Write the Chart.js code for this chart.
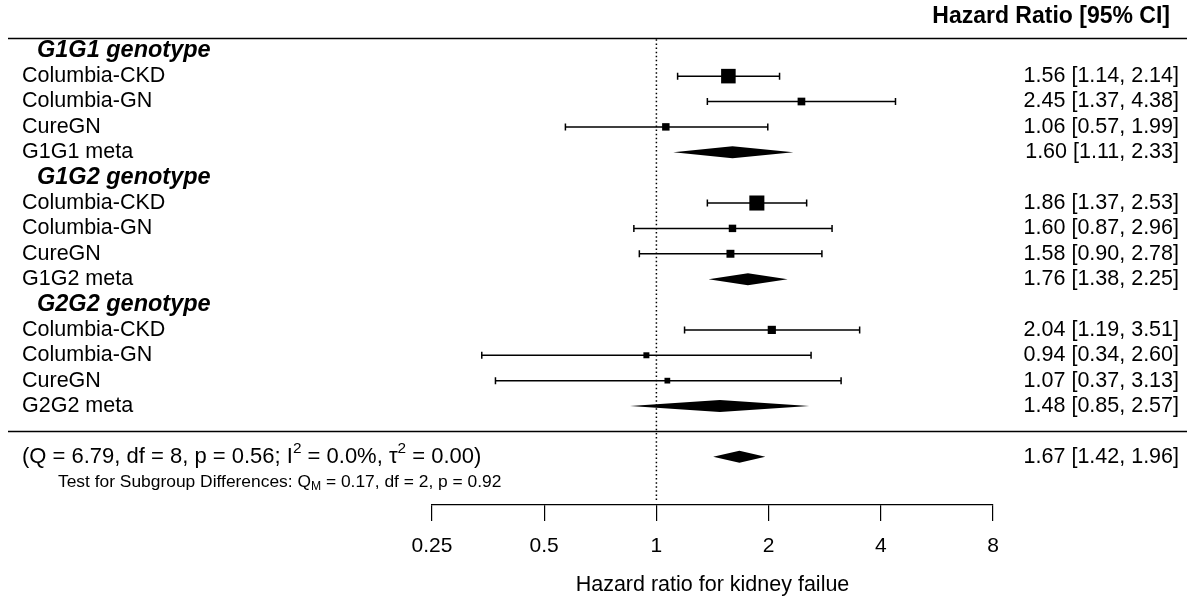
<!DOCTYPE html>
<html>
<head>
<meta charset="utf-8">
<script src="https://cdn.jsdelivr.net/npm/chart.js@4.4.1/dist/chart.umd.min.js"></script>
<style>
  html, body { margin: 0; padding: 0; background: #fff; }
  #forest { display: block; }
</style>
</head>
<body>
<canvas id="forest" width="1187" height="604"></canvas>
<script>
/* Forest plot: hazard ratio for kidney failure by genotype. */
const rowLabels = [
  "G1G1 genotype", "Columbia-CKD", "Columbia-GN", "CureGN", "G1G1 meta",
  "G1G2 genotype", "Columbia-CKD", "Columbia-GN", "CureGN", "G1G2 meta",
  "G2G2 genotype", "Columbia-CKD", "Columbia-GN", "CureGN", "G2G2 meta",
];
const rowKinds = [
  "group", "study", "study", "study", "meta",
  "group", "study", "study", "study", "meta",
  "group", "study", "study", "study", "meta",
];
const estimates = [null, 1.56, 2.45, 1.06, 1.60, null, 1.86, 1.60, 1.58, 1.76, null, 2.04, 0.94, 1.07, 1.48];
const lowerCI   = [null, 1.14, 1.37, 0.57, 1.11, null, 1.37, 0.87, 0.90, 1.38, null, 1.19, 0.34, 0.37, 0.85];
const upperCI   = [null, 2.14, 4.38, 1.99, 2.33, null, 2.53, 2.96, 2.78, 2.25, null, 3.51, 2.60, 3.13, 2.57];
// relative study weights
const weights   = [null, 39, 11, 10, null, null, 41, 10, 12, null, null, 13, 4, 3, null];

const overallRow = 16;
const overallHR = 1.67;
const overallLower = 1.42;
const overallUpper = 1.96;

const tickValues = [0.25, 0.5, 1, 2, 4, 8];
const tickLabels = ["0.25", "0.5", "1", "2", "4", "8"];

const FONT = "'Liberation Sans', Arial, sans-serif";

function fmt(v) {
  return v.toFixed(2);
}

function ciText(est, lo, hi) {
  return `${fmt(est)} [${fmt(lo)}, ${fmt(hi)}]`;
}

function boxRadius(w) {
  const side = 5 + w * 0.245;
  return side / (2 * Math.SQRT1_2);
}

const studyPoints = [];
const studyRadii = [];
rowKinds.forEach((kind, i) => {
  if (kind === "study") {
    studyPoints.push({ x: estimates[i], y: i });
    studyRadii.push(boxRadius(weights[i]));
  }
});

// draws rich text pieces: [{t, sup, sub}]
function drawPieces(ctx, pieces, x, y, size) {
  let cx = x;
  pieces.forEach((p) => {
    const s = p.sup || p.sub ? size * 0.7 : size;
    ctx.font = `${s}px ${FONT}`;
    const dy = p.sup ? -size * 0.38 : p.sub ? size * 0.25 : 0;
    ctx.fillText(p.t, cx, y + dy);
    cx += ctx.measureText(p.t).width;
  });
}

const forestPlugin = {
  id: "forestMarks",
  beforeDatasetsDraw(chart) {
    const { ctx, scales: { x, y }, chartArea } = chart;
    ctx.save();

    // reference line at HR = 1
    ctx.strokeStyle = "#000";
    ctx.lineWidth = 1.5;
    ctx.setLineDash([1.5, 2.6]);
    ctx.beginPath();
    ctx.moveTo(x.getPixelForValue(1), y.getPixelForValue(-0.45));
    ctx.lineTo(x.getPixelForValue(1), chartArea.bottom - 4);
    ctx.stroke();
    ctx.setLineDash([]);

    // confidence intervals for studies
    ctx.lineWidth = 1.5;
    rowKinds.forEach((kind, i) => {
      if (kind !== "study") return;
      const py = y.getPixelForValue(i);
      const x0 = x.getPixelForValue(lowerCI[i]);
      const x1 = x.getPixelForValue(upperCI[i]);
      ctx.beginPath();
      ctx.moveTo(x0, py);
      ctx.lineTo(x1, py);
      ctx.moveTo(x0, py - 3.5);
      ctx.lineTo(x0, py + 3.5);
      ctx.moveTo(x1, py - 3.5);
      ctx.lineTo(x1, py + 3.5);
      ctx.stroke();
    });

    // summary diamonds
    const diamond = (row, est, lo, hi) => {
      const py = y.getPixelForValue(row);
      const h = 6;
      ctx.beginPath();
      ctx.moveTo(x.getPixelForValue(lo), py);
      ctx.lineTo(x.getPixelForValue(est), py - h);
      ctx.lineTo(x.getPixelForValue(hi), py);
      ctx.lineTo(x.getPixelForValue(est), py + h);
      ctx.closePath();
      ctx.fillStyle = "#000";
      ctx.fill();
    };
    rowKinds.forEach((kind, i) => {
      if (kind === "meta") diamond(i, estimates[i], lowerCI[i], upperCI[i]);
    });
    diamond(overallRow, overallHR, overallLower, overallUpper);
    ctx.restore();
  },
  afterDraw(chart) {
    const { ctx, scales: { y } } = chart;
    const W = chart.width;
    ctx.save();
    ctx.fillStyle = "#000";
    ctx.strokeStyle = "#000";
    ctx.textBaseline = "middle";

    // header
    ctx.font = `bold 23px ${FONT}`;
    ctx.textAlign = "right";
    ctx.fillText("Hazard Ratio [95% CI]", 1170, 17);

    // horizontal rules
    ctx.lineWidth = 1.3;
    [-0.5, 14.98].forEach((r) => {
      const py = Math.round(y.getPixelForValue(r)) + 0.5;
      ctx.beginPath();
      ctx.moveTo(8, py);
      ctx.lineTo(W, py);
      ctx.stroke();
    });

    // row labels and CI text
    rowLabels.forEach((label, i) => {
      const py = y.getPixelForValue(i);
      ctx.textAlign = "left";
      if (rowKinds[i] === "group") {
        ctx.font = `italic bold 23.5px ${FONT}`;
        ctx.fillText(label, 37, py);
        return;
      }
      ctx.font = `21.5px ${FONT}`;
      ctx.fillText(label, 22, py);
      ctx.textAlign = "right";
      ctx.fillText(ciText(estimates[i], lowerCI[i], upperCI[i]), 1179, py);
    });

    // overall row
    const po = y.getPixelForValue(overallRow);
    ctx.textAlign = "right";
    ctx.font = `21.5px ${FONT}`;
    ctx.fillText(ciText(overallHR, overallLower, overallUpper), 1179, po);
    ctx.textAlign = "left";
    drawPieces(ctx, [
      { t: "(Q = 6.79, df = 8, p = 0.56; I" },
      { t: "2", sup: true },
      { t: " = 0.0%, \u03c4" },
      { t: "2", sup: true },
      { t: " = 0.00)" },
    ], 22, po, 22);

    drawPieces(ctx, [
      { t: "Test for Subgroup Differences: Q" },
      { t: "M", sub: true },
      { t: " = 0.17, df = 2, p = 0.92" },
    ], 58, y.getPixelForValue(overallRow + 1), 17.4);

    ctx.restore();
  },
};

new Chart(document.getElementById("forest"), {
  type: "scatter",
  data: {
    datasets: [
      {
        label: "Studies",
        data: studyPoints,
        pointStyle: "rect",
        pointRadius: studyRadii,
        pointHoverRadius: studyRadii,
        pointBackgroundColor: "#000",
        pointBorderWidth: 0,
        pointBorderColor: "#000",
      },
    ],
  },
  options: {
    responsive: false,
    devicePixelRatio: 1,
    animation: false,
    layout: { autoPadding: false, padding: { left: 432, right: 194, top: 0, bottom: 0 } },
    plugins: { legend: { display: false }, tooltip: { enabled: false } },
    scales: {
      x: {
        type: "logarithmic",
        position: "bottom",
        min: 0.25,
        max: 8,
        afterBuildTicks(scale) {
          scale.ticks = tickValues.map((v) => ({ value: v }));
        },
        afterFit(scale) {
          scale.height = 99;
        },
        grid: { drawOnChartArea: false, drawTicks: true, tickLength: 16, color: "#000", lineWidth: 1.2 },
        border: { display: true, color: "#000", width: 1.2 },
        ticks: {
          autoSkip: false,
          maxRotation: 0,
          padding: 13,
          color: "#000",
          font: { family: FONT, size: 21 },
          callback: (v, i) => tickLabels[i],
        },
        title: {
          display: true,
          text: "Hazard ratio for kidney failue",
          color: "#000",
          font: { family: FONT, size: 21.5 },
          padding: { top: 0, bottom: 6 },
        },
      },
      y: {
        type: "linear",
        display: false,
        reverse: true,
        min: -2,
        max: 17.9,
      },
    },
  },
  plugins: [forestPlugin],
});
</script>
</body>
</html>
